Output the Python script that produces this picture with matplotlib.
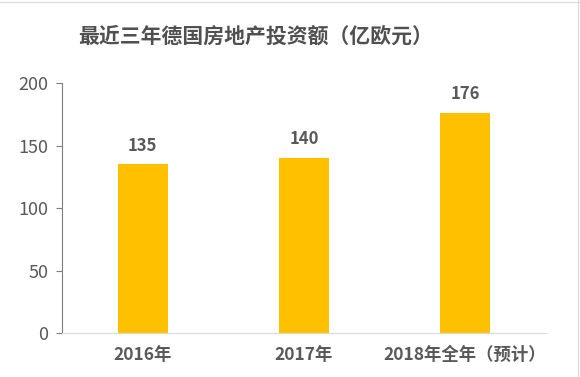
import matplotlib
matplotlib.use("Agg")
import matplotlib.pyplot as plt
from matplotlib.lines import Line2D

plt.rcParams['font.family'] = ['Noto Sans CJK SC', 'DejaVu Sans']

# data
categories = ['2016年', '2017年', '2018年全年（预计）']
values = [135, 140, 176]
title = '最近三年德国房地产投资额（亿欧元）'

bar_color = '#FFC000'
text_color = '#595959'

fig = plt.figure(figsize=(5.8, 3.77), dpi=100)
ax = fig.add_axes([0.107, 0.1167, 0.834, 0.663])

x = range(len(categories))
bars = ax.bar(x, values, width=0.31, color=bar_color)

for b, v in zip(bars, values):
    ax.annotate(str(v), (b.get_x() + b.get_width() / 2, v),
                xytext=(0, 7), textcoords='offset points',
                ha='center', va='bottom', fontsize=12, fontweight='bold',
                color=text_color)

ax.set_xlim(-0.5, len(categories) - 0.5)
ax.set_ylim(0, 200)
ax.set_yticks([0, 50, 100, 150, 200])
ax.set_xticks(list(x))
ax.set_xticklabels(categories, fontsize=12.5, fontweight='bold', color=text_color)
ax.tick_params(axis='x', length=0, pad=9)
ax.tick_params(axis='y', length=4, width=0.8, color='#7f7f7f', labelsize=13,
               labelcolor=text_color, pad=6)

for s in ['top', 'right']:
    ax.spines[s].set_visible(False)
ax.spines['left'].set_color('#7f7f7f')
ax.spines['left'].set_linewidth(0.8)
ax.spines['bottom'].set_color('#d9d9d9')
ax.spines['bottom'].set_linewidth(0.8)

fig.text(0.44, 0.903, title, ha='center', va='center', fontsize=15,
         fontweight='bold', color='#505050')

# faint sheet border lines at top and right
fig.add_artist(Line2D([0, 1], [0.995, 0.995], transform=fig.transFigure,
                      color='#d9d9d9', lw=0.8))
fig.add_artist(Line2D([0.997, 0.997], [0, 1], transform=fig.transFigure,
                      color='#d9d9d9', lw=0.8))

fig.savefig('out.png', dpi=100)
